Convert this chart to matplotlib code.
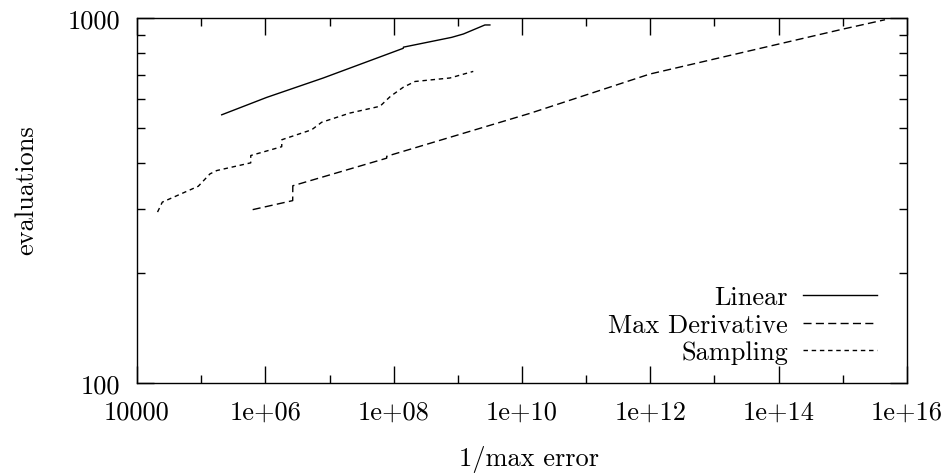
import matplotlib
matplotlib.use("Agg")
import matplotlib.pyplot as plt
from matplotlib.ticker import FixedLocator, NullFormatter

plt.rcParams['font.family'] = ['cmr10', 'DejaVu Serif']
plt.rcParams['axes.formatter.use_mathtext'] = True
plt.rcParams['mathtext.fontset'] = 'cm'

# data
linear_x = [2.09e5, 1.05e6, 8.0e6, 1.41e8, 1.42e8, 8.0e8, 1.22e9, 2.64e9, 3.16e9]
linear_y = [543, 606, 685, 826, 832, 885, 904, 957, 957]

maxder_x = [6.35e5, 2.67e6, 2.68e6, 7.78e7, 7.80e7, 1.33e10, 9.77e11, 1.02e15, 4.54e15]
maxder_y = [298.5, 316, 347, 413, 418, 548, 702, 933, 989]

sampling_x = [2.09e4, 2.48e4, 9.02e4, 1.37e5, 1.75e5, 5.92e5, 5.93e5, 1.80e6, 1.81e6,
              5.27e6, 7.55e6, 2.08e7, 6.12e7, 8.9e7, 1.41e8, 2.15e8, 7.55e8, 1.74e9]
sampling_y = [294, 313, 346, 374, 382, 401, 420, 444, 464,
              494, 518, 549, 573, 610, 646, 670, 685, 714]

x_ticks = [1e4, 1e6, 1e8, 1e10, 1e12, 1e14, 1e16]
x_tick_labels = ["10000", "1e+06", "1e+08", "1e+10", "1e+12", "1e+14", "1e+16"]
x_minor = [1e5, 1e7, 1e9, 1e11, 1e13, 1e15]
y_ticks = [100, 1000]
y_tick_labels = ["100", "1000"]
y_minor = [200, 300, 400, 500, 600, 700, 800, 900]

FS = 19

fig = plt.figure(figsize=(9.52, 4.77), dpi=100)
ax = fig.add_axes([137/952, 1 - 384/477, 770/952, 365/477])

ax.plot(linear_x, linear_y, color='black', lw=1.0, ls='-', label='Linear')
ax.plot(maxder_x, maxder_y, color='black', lw=1.0, ls=(0, (5.8, 3.1)), label='Max Derivative')
ax.plot(sampling_x, sampling_y, color='black', lw=1.0, ls=(0, (3.2, 2.7)), label='Sampling')

ax.set_xscale('log')
ax.set_yscale('log')
ax.set_xlim(1e4, 1e16)
ax.set_ylim(100, 1000)

ax.xaxis.set_major_locator(FixedLocator(x_ticks))
ax.set_xticklabels(x_tick_labels)
ax.xaxis.set_minor_locator(FixedLocator(x_minor))
ax.xaxis.set_minor_formatter(NullFormatter())
ax.yaxis.set_major_locator(FixedLocator(y_ticks))
ax.set_yticklabels(y_tick_labels)
ax.yaxis.set_minor_locator(FixedLocator(y_minor))
ax.yaxis.set_minor_formatter(NullFormatter())

ax.tick_params(which='both', direction='in', top=True, right=True, labelsize=FS, width=1.0)
ax.tick_params(which='major', length=12)
ax.tick_params(axis='x', which='major', pad=12)
ax.tick_params(axis='y', which='major', pad=12)
ax.tick_params(which='minor', length=6)
for s in ax.spines.values():
    s.set_linewidth(1.0)

ax.set_xlabel('1/max error', fontsize=FS)
ax.set_ylabel('evaluations', fontsize=FS)
ax.xaxis.set_label_coords((529 - 137)/770, -(446 - 384)/365)
ax.yaxis.set_label_coords(-(137 - 38)/770, (384 - 190)/365)

ax.legend(loc='lower right', frameon=False, markerfirst=False, fontsize=FS,
          handlelength=2.84, handletextpad=0.55, labelspacing=0.15,
          borderaxespad=0.0, bbox_to_anchor=(1 - 19/770, 8/365))

fig.savefig('out.png', dpi=100)
